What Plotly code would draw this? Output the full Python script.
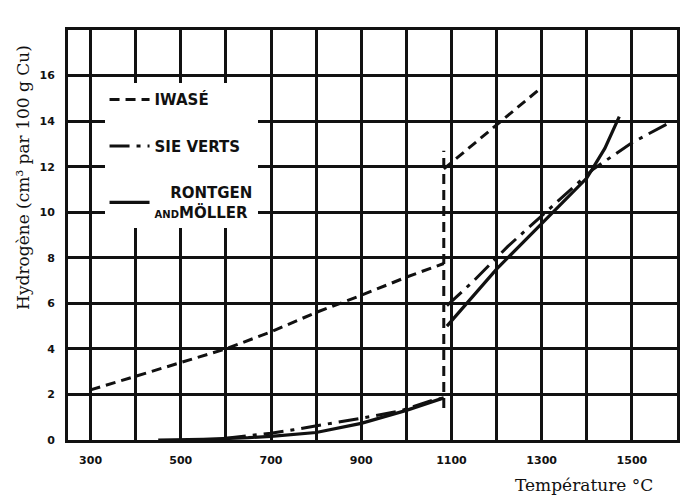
import plotly.graph_objects as go

# Hydrogen solubility in copper versus temperature (three investigations)

# Iwasé — solid copper branch
iwase_solid_t = [300, 400, 500, 600, 700, 800, 900, 1000, 1083]
iwase_solid_h = [2.2, 2.8, 3.4, 4.0, 4.75, 5.6, 6.35, 7.15, 7.75]
# Iwasé — jump at the melting point
iwase_jump_t = [1083, 1083]
iwase_jump_h = [1.4, 12.7]
# Iwasé — liquid copper branch
iwase_liquid_t = [1083, 1150, 1210, 1260, 1295]
iwase_liquid_h = [11.9, 13.0, 14.0, 14.8, 15.4]

# Sieverts — solid and liquid copper
sieverts_solid_t = [600, 700, 750, 840, 930, 985, 1055, 1083]
sieverts_solid_h = [0.08, 0.3, 0.45, 0.75, 1.06, 1.27, 1.72, 1.85]
sieverts_liquid_t = [1090, 1150, 1225, 1320, 1415, 1500, 1590]
sieverts_liquid_h = [5.9, 7.0, 8.5, 10.2, 11.9, 13.05, 14.0]

# Röntgen and Möller — solid and liquid copper
rontgen_solid_t = [450, 550, 650, 700, 800, 900, 1000, 1083]
rontgen_solid_h = [0.0, 0.03, 0.1, 0.16, 0.33, 0.73, 1.3, 1.85]
rontgen_liquid_t = [1090, 1200, 1300, 1400, 1440, 1472]
rontgen_liquid_h = [5.0, 7.5, 9.5, 11.5, 12.8, 14.2]

# Axis ticks
x_tick_vals = [300, 400, 500, 600, 700, 800, 900, 1000, 1100, 1200, 1300, 1400, 1500]
x_tick_text = ["300", "", "500", "", "700", "", "900", "", "1100", "", "1300", "", "1500"]
y_tick_vals = [0, 2, 4, 6, 8, 10, 12, 14, 16]
y_tick_text = ["0", "2", "4", "6", "8", "10", "12", "14", "16"]

INK = "#111111"
IWASE_DASH = "10px,6px"
SIEVERTS_DASH = "20px,7px,4px,7px"

fig = go.Figure()

def add(t, h, name, group, dash, width, show):
    fig.add_trace(go.Scatter(
        x=t, y=h, mode="lines", name=name, legendgroup=group, showlegend=show,
        line=dict(color=INK, width=width, dash=dash),
        hoverinfo="skip",
    ))

add(iwase_solid_t, iwase_solid_h, "IWASÉ", "iwase", IWASE_DASH, 3, True)
add(iwase_jump_t, iwase_jump_h, "IWASÉ", "iwase", IWASE_DASH, 3, False)
add(iwase_liquid_t, iwase_liquid_h, "IWASÉ", "iwase", IWASE_DASH, 3, False)

add(sieverts_solid_t, sieverts_solid_h, "SIE VERTS", "sieverts", SIEVERTS_DASH, 3, True)
add(sieverts_liquid_t, sieverts_liquid_h, "SIE VERTS", "sieverts", SIEVERTS_DASH, 3, False)

rontgen_label = "\u00a0\u00a0\u00a0RONTGEN<br><span style='font-size:10px'>AND</span>MÖLLER"
add(rontgen_solid_t, rontgen_solid_h, rontgen_label, "rontgen", "solid", 3.2, True)
add(rontgen_liquid_t, rontgen_liquid_h, rontgen_label, "rontgen", "solid", 3.2, False)

tick_font = dict(family="DejaVu Sans", size=11, color=INK, weight="bold")
title_font = dict(family="DejaVu Serif", size=17, color=INK)

fig.update_xaxes(
    range=[250, 1600],
    tickmode="array", tickvals=x_tick_vals, ticktext=x_tick_text,
    showgrid=True, gridcolor=INK, gridwidth=2.5,
    showline=True, linecolor=INK, linewidth=3, mirror=True,
    zeroline=False, ticks="", tickfont=tick_font, ticklabelstandoff=8,
)
fig.update_yaxes(
    range=[0, 18],
    tickmode="array", tickvals=y_tick_vals, ticktext=y_tick_text,
    showgrid=True, gridcolor=INK, gridwidth=2.5,
    showline=True, linecolor=INK, linewidth=3, mirror=True,
    zeroline=False, ticks="", tickfont=tick_font, ticklabelstandoff=8,
)

fig.add_annotation(
    text="Hydrogène (cm³ par 100 g Cu)", textangle=-90,
    xref="paper", yref="paper", x=-0.075, y=0.64,
    xanchor="center", yanchor="middle", showarrow=False, font=title_font,
)
fig.add_annotation(
    text="Température °C",
    xref="paper", yref="paper", x=0.848, y=-0.11,
    xanchor="center", yanchor="middle", showarrow=False, font=title_font,
)

fig.update_layout(
    width=692, height=504,
    margin=dict(l=68, r=12, t=30, b=64),
    paper_bgcolor="white", plot_bgcolor="white",
    legend=dict(
        x=0.06, y=0.87, xanchor="left", yanchor="top",
        bgcolor="white", borderwidth=0,
        font=dict(family="DejaVu Sans", size=15, color=INK, weight="bold"),
        tracegroupgap=24, traceorder="grouped", itemwidth=40,
    ),
    showlegend=True,
)

fig.write_html("out.html")
